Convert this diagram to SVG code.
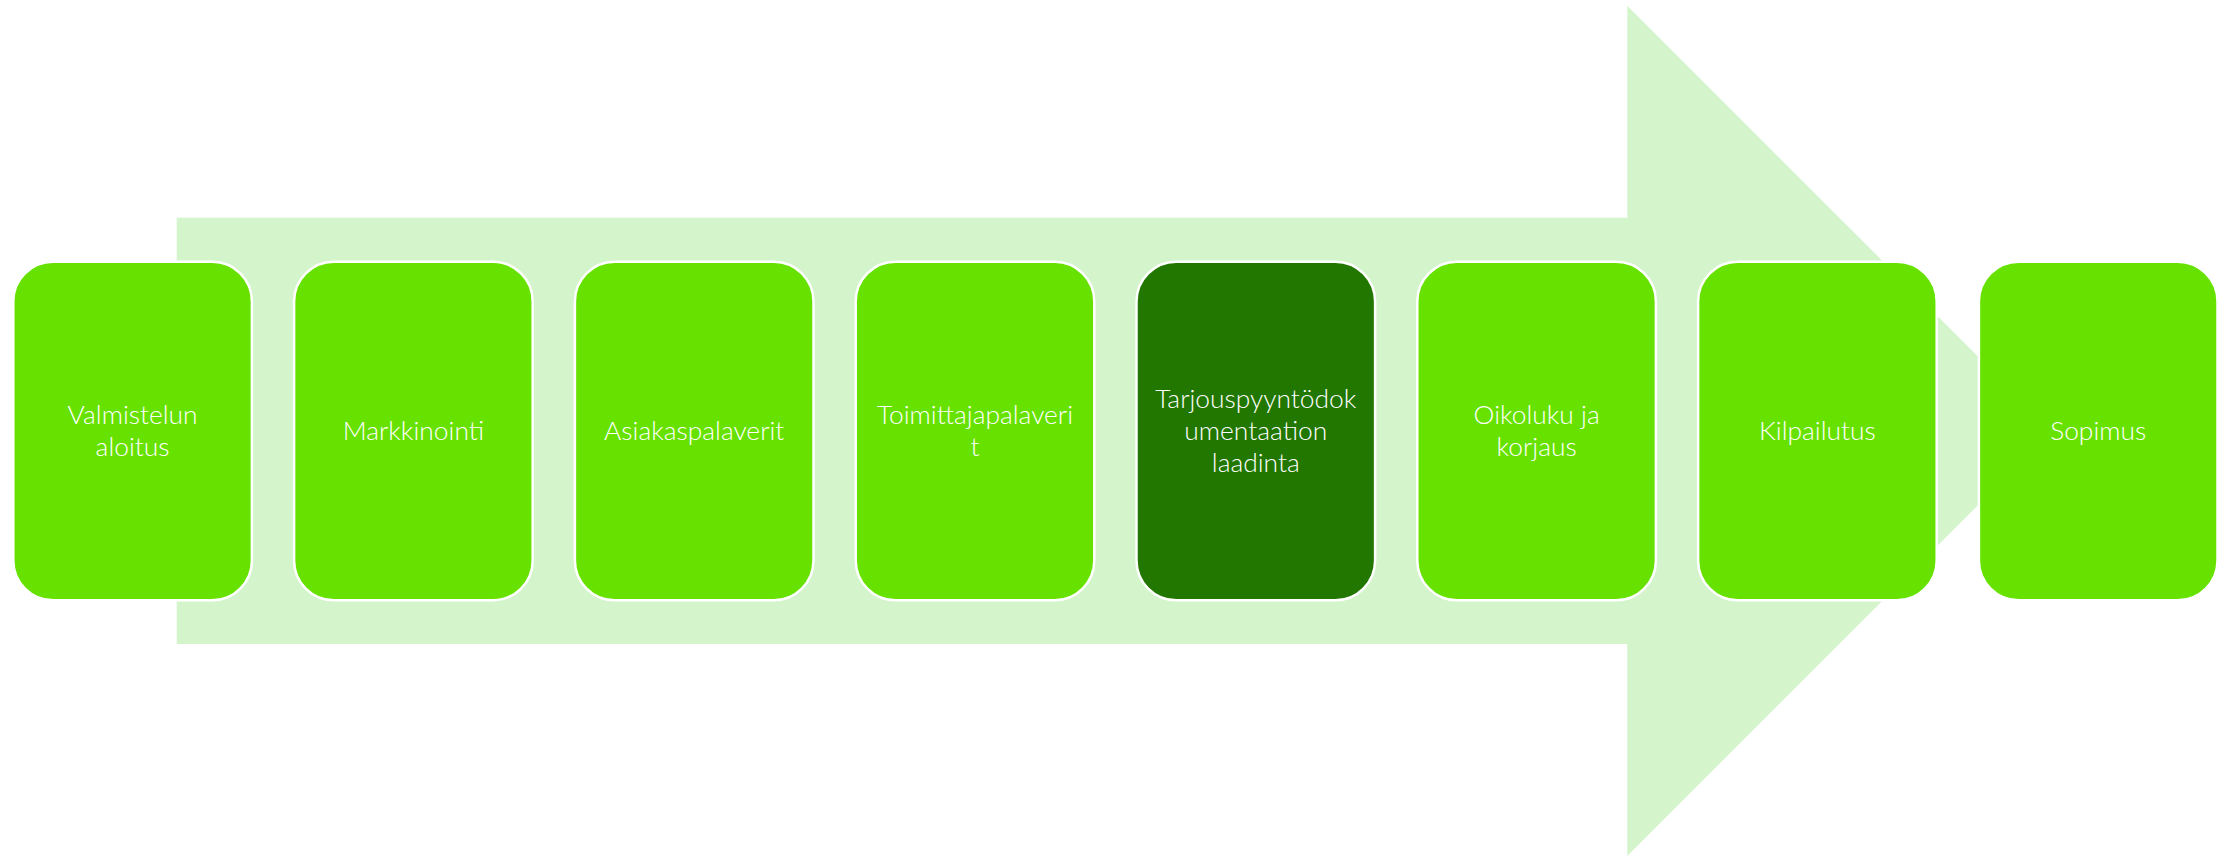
<svg xmlns="http://www.w3.org/2000/svg" width="2231" height="856" viewBox="0 0 2231 856">
<style>
.box{fill:#67E200;stroke:#FFFFFF;stroke-width:2.5}
.dark{fill:#227700}
.lbl{font-family:Lato,"Open Sans","Liberation Sans",sans-serif;font-weight:300;font-size:26.4px;fill:#FFFFFF;text-anchor:middle}
</style>
<rect width="2231" height="856" fill="#FFFFFF"/>
<g id="background-arrow">
<polygon points="176.7,217.7 1627.3,217.7 1627.3,5.7 2052.4,430.8 1627.3,855.9 1627.3,644 176.7,644" fill="#D4F4CC"/>
</g>
<g id="n1"><rect class="box" x="13.3" y="261.7" width="238.6" height="338.5" rx="39.8"/><text class="lbl" x="132.6" y="424">Valmistelun</text><text class="lbl" x="132.6" y="456">aloitus</text></g>
<g id="n2"><rect class="box" x="294.1" y="261.7" width="238.6" height="338.5" rx="39.8"/><text class="lbl" x="413.4" y="440">Markkinointi</text></g>
<g id="n3"><rect class="box" x="574.9" y="261.7" width="238.6" height="338.5" rx="39.8"/><text class="lbl" x="694.2" y="440">Asiakaspalaverit</text></g>
<g id="n4"><rect class="box" x="855.7" y="261.7" width="238.6" height="338.5" rx="39.8"/><text class="lbl" x="975" y="424">Toimittajapalaveri</text><text class="lbl" x="975" y="456">t</text></g>
<g id="n5"><rect class="box dark" x="1136.5" y="261.7" width="238.6" height="338.5" rx="39.8"/><text class="lbl" x="1255.8" y="408">Tarjouspyyntödok</text><text class="lbl" x="1255.8" y="440">umentaation</text><text class="lbl" x="1255.8" y="472">laadinta</text></g>
<g id="n6"><rect class="box" x="1417.3" y="261.7" width="238.6" height="338.5" rx="39.8"/><text class="lbl" x="1536.6" y="424">Oikoluku ja</text><text class="lbl" x="1536.6" y="456">korjaus</text></g>
<g id="n7"><rect class="box" x="1698.1" y="261.7" width="238.6" height="338.5" rx="39.8"/><text class="lbl" x="1817.4" y="440">Kilpailutus</text></g>
<g id="n8"><rect class="box" x="1978.9" y="261.7" width="238.6" height="338.5" rx="39.8"/><text class="lbl" x="2098.2" y="440">Sopimus</text></g>
<g id="connectors"></g>
</svg>
